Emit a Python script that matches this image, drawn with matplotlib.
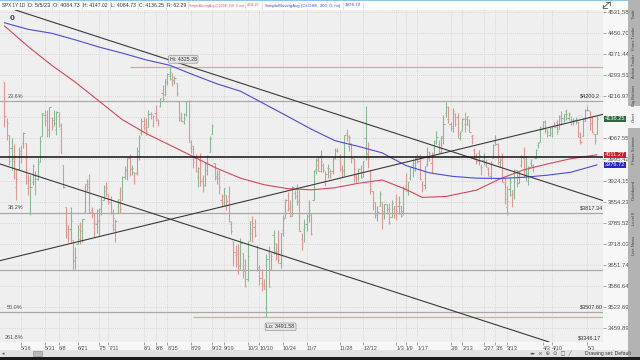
import numpy as np
import pandas as pd
import matplotlib
matplotlib.use("Agg")
import matplotlib.pyplot as plt
from matplotlib.collections import LineCollection
from matplotlib.patches import Rectangle
from matplotlib.lines import Line2D
from matplotlib.ticker import NullLocator
import matplotlib.transforms as mtrans

# ---------------- data ----------------
holidays = ["2022-05-30", "2022-06-20", "2022-07-04", "2022-09-05", "2022-11-24",
            "2022-12-26", "2023-01-02", "2023-01-16", "2023-02-20", "2023-04-07"]

opens = [4270,4128,4081,4035,3990,3903,3963,4013,4052,4051,3900,3927,3919,3943,3929,3985,4077,4151,
 4150,4096,4138,4134,4097,4148,4102,3975,3838,3764,3764,3729,3665,3716,3734,3775,3821,3921,3913,3826,3785,
 3782,3792,3831,3858,3888,3880,3851,3779,3764,3818,3883,3860,3935,3960,4000,3965,3953,3951,4026,4088,
 4112,4105,4108,4155,4116,4156,4134,4181,4227,4225,4269,4290,4280,4273,4266,4195,4133,4126,4154,4199,4034,4041,4000,
 3937,3994,3930,3909,3960,4022,4084,3983,3940,3932,3858,3849,3876,3872,3782,3727,3682,3687,3651,3688,3633,
 3609,3726,3753,3771,3706,3646,3595,3591,3520,3690,3640,3746,3696,3689,3657,3762,3799,3825,3834,3808,3881,
 3901,3853,3733,3766,3780,3817,3810,3859,3963,3977,4006,3977,3919,3966,3957,3956,4001,4023,4005,3964,3957,
 4087,4040,4052,3997,3937,3947,3954,3940,4069,4015,3958,3890,3853,3811,3840,3853,3815,3843,3829,3805,3829,
 3853,3840,3840,3823,3910,3889,3932,3977,3961,3999,4002,3912,3910,3979,4001,3982,4036,4053,4050,4020,
 4070,4158,4136,4119,4105,4153,4144,4068,4096,4118,4119,4114,4077,4027,4002,4019,3973,3993,3977,
 3964,3939,3999,4055,4049,3987,3998,3912,3835,3895,3876,3878,3959,3917,3975,4002,3959,3939,3982,3974,3999,4046,4056,
 4102,4128,4094,4081,4085,4111,4126,4101,4140,4137,4164,4140,4130,4132,4132,4126,4087,4075,4129,
 4166,4164,4122,4082,4084.73]
highs = [4270,4140,4081,4068,4050,3964,4038,4046,4090,4051,3946,3943,3981,3955,3999,4076,4158,4169,
 4167,4177,4142,4169,4164,4160,4120,3975,3838,3778,3837,3729,3707,3779,3789,3797,3913,3928,3946,3837,3818,
 3829,3832,3870,3910,3918,3880,3874,3830,3796,3863,3903,3939,3974,3999,4013,3975,3953,4039,4079,4141,
 4144,4141,4167,4161,4151,4187,4137,4211,4257,4280,4301,4325.28,4302,4292,4266,4196,4160,4156,4200,4203,4062,4044,4015,
 3970,4018,3942,3987,4010,4077,4119,3983,3961,3960,3880,3900,3876,3907,3790,3727,3715,3717,3736,3688,3671,
 3727,3791,3807,3797,3713,3652,3640,3609,3685,3712,3689,3762,3719,3762,3753,3810,3862,3887,3859,3905,3893,
 3912,3894,3751,3796,3813,3859,3818,3958,4001,4008,4028,3983,3955,3979,3962,4004,4033,4035,4013,3976,4080,
 4101,4080,4052,4002,3951,3966,3977,3991,4181,4054,3958,3890,3854,3839,3889,3853,3845,3847,3848,3858,3839,
 3878,3874,3840,3906,3951,3920,3970,3997,4003,4015,4014,3923,3973,4039,4023,4020,4061,4095,4063,4077,
 4149,4195,4182,4124,4176,4156,4157,4094,4138,4159,4148,4136,4081,4033,4017,4029,3979,4019,3997,
 3971,3990,4048,4079,4051,4001,4018,3935,3905,3937,3894,3964,3959,3956,4009,4039,4007,3972,3997,3979,4030,4057,4110,
 4128,4133,4100,4108,4110,4124,4132,4150,4164,4152,4170,4162,4148,4138,4142,4127,4089,4139,4170,
 4186,4165,4148,4083,4147.02]
lows = [4106,4062,3975,3959,3928,3858,3963,3983,4033,3911,3876,3810,3909,3875,3925,3985,4077,4110,
 4074,4074,4098,4110,4080,4107,4017,3900,3735,3722,3723,3639,3637,3716,3717,3723,3821,3889,3820,3800,3738,
 3752,3742,3809,3858,3873,3847,3814,3759,3722,3818,3817,3860,3930,3927,3938,3944,3911,3943,3992,4079,
 4097,4079,4107,4136,4107,4128,4112,4177,4200,4218,4257,4277,4253,4261,4218,4129,4128,4119,4147,4057,4017,3965,3954,
 3903,3906,3886,3906,3944,4022,4084,3926,3912,3880,3837,3839,3828,3789,3749,3648,3644,3623,3640,3611,3584,
 3602,3726,3723,3739,3631,3588,3570,3578,3491.58,3582,3640,3686,3668,3657,3642,3741,3799,3824,3803,3808,3863,
 3843,3758,3698,3722,3759,3786,3745,3859,3945,3957,3953,3954,3906,3933,3933,3947,3998,4021,3955,3937,3938,
 4058,4026,3984,3918,3916,3923,3933,3935,3993,3965,3879,3828,3800,3792,3839,3765,3797,3813,3780,3805,3800,
 3794,3815,3803,3809,3890,3877,3925,3937,3955,3984,3926,3885,3897,3972,3990,3950,4013,4049,4017,4020,
 4049,4142,4123,4094,4089,4111,4069,4061,4092,4091,4113,4089,4048,3997,3981,3978,3943,3977,3968,
 3940,3928,3999,4044,3981,3970,3918,3846,3809,3873,3838,3864,3901,3917,3971,3936,3921,3909,3970,3952,3999,4035,4056,
 4102,4086,4072,4077,4073,4108,4084,4099,4114,4124,4131,4134,4114,4114,4117,4071,4049,4075,4128,
 4164,4096,4088,4048,4084.73]
closes = [4147,4123,3991,4001,3935,3930,4024,4008,4088,3924,3901,3901,3974,3941,3979,4058,4158,4132,
 4101,4177,4109,4121,4161,4116,4018,3901,3750,3735,3790,3667,3675,3765,3760,3796,3912,3901,3821,3819,3785,
 3825,3831,3845,3903,3899,3854,3819,3801,3790,3863,3831,3937,3960,3999,3962,3967,3921,4024,4073,4130,
 4119,4091,4155,4152,4145,4140,4122,4210,4207,4280,4297,4305,4275,4284,4228,4138,4128,4141,4199,4057,4031,3986,3955,
 3966,3924,3908,3980,4006,4067,4110,3932,3946,3901,3873,3899,3856,3790,3758,3693,3655,3647,3719,3640,3586,
 3678,3791,3783,3745,3640,3612,3589,3578,3670,3583,3678,3720,3696,3666,3753,3797,3859,3830,3807,3901,3872,
 3856,3759,3720,3771,3807,3828,3749,3956,3993,3957,3991,3959,3947,3965,3950,4004,4027,4026,3964,3958,4080,
 4076,4072,3999,3941,3933,3964,3934,3991,4019,3996,3896,3853,3818,3821,3879,3822,3845,3829,3783,3849,3840,
 3824,3853,3808,3895,3893,3919,3970,3983,3999,3991,3929,3899,3972,4020,4017,4016,4060,4071,4018,4077,
 4119,4180,4136,4111,4164,4118,4082,4090,4137,4136,4148,4090,4079,3997,3991,4012,3970,3982,3970,
 3951,3982,4046,4048,3986,3992,3919,3862,3855,3920,3892,3960,3917,3951,4003,3937,3949,3971,3977,3971,4028,4051,4109,
 4124,4101,4090,4105,4110,4109,4092,4146,4138,4152,4154,4154,4130,4133,4137,4072,4056,4136,4169,
 4167,4119,4091,4061,4136.25]

# moving averages (bar index, value)
ma100_idx = [0, 10, 20, 30, 40, 50, 60, 70, 80, 90, 100, 110, 120, 130, 140, 150, 160, 170, 177, 187, 200, 210, 220, 230, 240, 251]
sma100 = [4478, 4400, 4330, 4268, 4200, 4133, 4085, 4045, 4005, 3965, 3932, 3910, 3897, 3893, 3900, 3915, 3926, 3895, 3868, 3871, 3892, 3930, 3960, 3980, 3998, 4011.27]
ma200_idx = [0, 10, 20, 30, 40, 50, 60, 70, 80, 90, 100, 110, 120, 130, 140, 150, 160, 170, 180, 190, 200, 210, 220, 230, 240, 251]
sma200 = [4490, 4465, 4450, 4425, 4398, 4375, 4350, 4330, 4295, 4262, 4235, 4190, 4145, 4100, 4060, 4040, 4018, 3975, 3950, 3938, 3932, 3931, 3935, 3942, 3952, 3976.72]

price_ticks = [4531.58, 4450.70, 4371.44, 4293.51, 4216.97, 4141.40, 4067.55, 3995.42, 3924.15,
               3854.23, 3785.52, 3718.03, 3651.74, 3586.64, 3522.69, 3459.89]

date_labels = ["2022-05-16", "2022-05-31", "2022-06-08", "2022-06-21", "2022-07-05", "2022-07-11",
               "2022-08-01", "2022-08-08", "2022-08-15", "2022-08-29", "2022-09-12", "2022-09-19",
               "2022-10-03", "2022-10-10", "2022-10-24", "2022-11-07", "2022-11-28", "2022-12-12",
               "2023-01-03", "2023-01-09", "2023-01-17", "2023-02-06", "2023-02-13", "2023-02-27",
               "2023-03-06", "2023-03-13", "2023-04-03", "2023-04-10", "2023-05-01"]

fib_levels = [4200.2, 3817.34, 3507.60]
fib_names = ["23.6%", "38.2%", "50.0%"]
fib_prices = ["$4200.2", "$3817.34", "$3507.60"]
support_level = 3636.87
black_level = 4003.0
hi_value, lo_value = 4325.28, 3491.58
# trendlines: (bar index, price) pairs
trend_down_upper = [(0, 4553.0), (251, 3864.0)]
trend_down_lower = [(0, 3975.0), (200, 3488.0)]
trend_up = [(0, 3668.0), (251, 4147.0)]

# header items: text, colour, left px, right px
header_items = [("SPX 1Y 1D", "#333333", 2, 25), ("D: 5/5/23", "#333333", 28, 50),
                ("O: 4084.73", "#333333", 53, 80), ("H: 4147.02", "#333333", 83, 108),
                ("L: 4084.73", "#333333", 111, 136), ("C: 4136.25", "#333333", 139, 164),
                ("R: 62.29", "#333333", 167, 186), ("SimpleMovingAvg (CLOSE, 100, 0, no)", "#d9475a", 189, 243),
                ("4011.27", "#d9475a", 247, 260), ("SimpleMovingAvg (CLOSE, 200, 0, no)", "#4545d6", 265, 341),
                ("3976.72", "#4545d6", 345, 361)]

# ---------------- figure ----------------
W, H = 640, 360
fig = plt.figure(figsize=(6.4, 3.6), dpi=100)
fig.patch.set_facecolor("#f7f7f7")
FONT = "Liberation Sans"

def fx(px):
    return px / W

def fy(py):
    return 1 - py / H

ax = fig.add_axes([0, fy(342), fx(603), (342 - 10) / H])
ax.set_facecolor("#efefef")
ax.set_yscale("log")
ax.set_ylim(3418.6, 4539.3)
ax.set_xlim(-1.9, 253.6)
for s in ax.spines.values():
    s.set_visible(False)

dates = pd.bdate_range("2022-05-05", "2023-05-05", freq="C", holidays=holidays)
n = min(len(dates), len(closes))

# axes ticks and grid
ax.yaxis.set_minor_locator(NullLocator())
ax.yaxis.tick_right()
ax.set_yticks(price_ticks)
ylabels = ["" if abs(v - 4141.40) < 0.01 else f"{v:.2f}" for v in price_ticks]
ax.set_yticklabels(ylabels, fontsize=4.3, color="#555555", family=FONT)
ax.tick_params(axis="y", length=2, width=0.5, color="#888888", pad=1.5)

pos, labs = [], []
dmap = {d.strftime("%Y-%m-%d"): i for i, d in enumerate(dates[:n])}
for d in date_labels:
    if d in dmap:
        pos.append(dmap[d])
        ts = pd.Timestamp(d)
        labs.append(f"{ts.month}/{ts.day}")
ax.set_xticks(pos)
ax.set_xticklabels(labs, fontsize=4.0, color="#555555", family=FONT)
for t in ax.get_xticklabels():
    t.set_ha("left")
ax.tick_params(axis="x", length=2, width=0.5, color="#888888", pad=1.0)
ax.grid(True, which="major", ls=(0, (1, 2)), lw=0.5, color="#c4c4c4")
ax.set_axisbelow(True)

# horizontal levels
for lv in fib_levels:
    ax.axhline(lv, color="#a9a9a9", lw=0.9, zorder=1)
ax.axhline(support_level, color="#a9a9a9", lw=0.9, zorder=1)
ax.hlines(hi_value, 53, 253.6, color="#e2a3a3", lw=0.9, zorder=1)
ax.hlines(lo_value, 80, 253.6, color="#e2a3a3", lw=0.9, zorder=1)

# OHLC bars
o = np.array(opens[:n]); h = np.array(highs[:n]); l = np.array(lows[:n]); c = np.array(closes[:n])
prev = np.concatenate([[o[0]], c[:-1]])
up = c >= prev
segs, cols = [], []
for i in range(n):
    col = "#86b994" if up[i] else "#e19696"
    segs += [[(i, l[i]), (i, h[i])], [(i - 0.5, o[i]), (i, o[i])], [(i, c[i]), (i + 0.5, c[i])]]
    cols += [col] * 3
ax.add_collection(LineCollection(segs, colors=cols, linewidths=0.8, zorder=3))

# moving averages
ax.plot(ma100_idx, sma100, color="#d9475a", lw=0.8, zorder=4)
ax.plot(ma200_idx, sma200, color="#4a4adf", lw=0.8, zorder=4)

# trendlines and black level
for tl in (trend_down_upper, trend_down_lower, trend_up):
    ax.axline(tl[0], tl[1], color="#3a3a3a", lw=0.8, zorder=5)
ax.axhline(black_level, color="#111111", lw=1.1, zorder=5)

# fib labels
blend = mtrans.blended_transform_factory(ax.transAxes, ax.transData)
for lv, nm, pr in zip(fib_levels, fib_names, fib_prices):
    ax.text(0.012, lv * 1.002, nm, transform=blend, fontsize=4, color="#555555", family=FONT, va="bottom")
    ax.text(0.962, lv * 1.002, pr, transform=blend, fontsize=4, color="#333333", family=FONT, va="bottom", ha="left")
ax.text(0.008, 0.006, "261.8%", transform=ax.transAxes, fontsize=4, color="#555555", family=FONT, va="bottom")
ax.text(0.958, 0.006, "$3346.17", transform=ax.transAxes, fontsize=4, color="#333333", family=FONT, va="bottom", ha="left")

# hi / lo bubbles
hi_i = int(np.argmax(h)); lo_i = int(np.argmin(l))
bb = dict(boxstyle="round,pad=0.25", fc="#e4e4e4", ec="#9a9a9a", lw=0.5)
ax.text(hi_i, hi_value * 1.004, f"Hi: {hi_value:.2f}", fontsize=3.8, family=FONT, color="#333333",
        va="bottom", ha="left", bbox=bb, zorder=6)
ax.text(lo_i, lo_value * 0.994, f"Lo: {lo_value:.2f}", fontsize=3.8, family=FONT, color="#333333",
        va="top", ha="left", bbox=bb, zorder=6)
ax.text(2, 4520, "0", fontsize=5, fontweight="bold", color="#444444", va="top")

# price bubbles on axis
for val, fc in ((closes[n - 1], "#2a6a3c"), (sma100[-1], "#cc1f2e"), (sma200[-1], "#2727cc")):
    ax.text(1.003, val, f"{val:.2f}", transform=blend, fontsize=4.1, color="white", family=FONT,
            va="center", ha="left", bbox=dict(boxstyle="square,pad=0.12", fc=fc, ec="none"), zorder=7,
            clip_on=False)

# header bar
fig.patches.append(Rectangle((0, fy(10)), 1, 10 / H, transform=fig.transFigure, fc="white", ec="none"))
fig.patches.append(Rectangle((0, fy(1)), 1, 1 / H, transform=fig.transFigure, fc="#8fc3e8", ec="none"))
renderer = fig.canvas.get_renderer()
for txt, col, x0, x1 in header_items:
    t = fig.text(fx(x0), fy(5.5), txt, fontsize=4.0, color=col, family=FONT, va="center", ha="left")
    wpx = t.get_window_extent(renderer=renderer).width
    fs = min(4.0, 4.0 * (x1 - x0) / max(wpx, 1))
    t.set_fontsize(fs)
    fig.lines.append(Line2D([fx(x1 + 1.5), fx(x1 + 1.5)], [fy(9), fy(2)], transform=fig.transFigure,
                            color="#d0d0d0", lw=0.4))
# expand icon
fig.lines.append(Line2D([fx(603), fx(610)], [fy(8), fy(2)], transform=fig.transFigure, color="#555555", lw=0.6))
fig.lines.append(Line2D([fx(606), fx(610), fx(610)], [fy(2), fy(2), fy(5)], transform=fig.transFigure, color="#555555", lw=0.6))
fig.lines.append(Line2D([fx(603), fx(603), fx(607)], [fy(5), fy(8), fy(8)], transform=fig.transFigure, color="#555555", lw=0.6))

# right side panel
fig.patches.append(Rectangle((fx(628), 0), fx(12), 1, transform=fig.transFigure, fc="#b3b3b3", ec="none"))
fig.patches.append(Rectangle((fx(628), fy(128)), fx(12), 22 / H, transform=fig.transFigure, fc="#f4f4f4", ec="none"))
tabs = [("Trade", 14), ("Forex Trader", 38), ("Active Trader", 66), ("Big Buttons", 95), ("Chart", 117),
        ("Phase Scanner", 150), ("Dashboard", 190), ("Level II", 218), ("Live News", 245)]
for txt, py in tabs:
    fig.text(fx(634), fy(py), txt, fontsize=3.0, rotation=90, color="#444444", family=FONT,
             va="center", ha="center")

# bottom toolbar
fig.patches.append(Rectangle((0, fy(357)), fx(628), 7 / H, transform=fig.transFigure, fc="#e2e2e2", ec="none"))
fig.patches.append(Rectangle((fx(33), fy(356)), fx(9), 5 / H, transform=fig.transFigure, fc="#b9b9b9", ec="#888888", lw=0.4))
fig.patches.append(Rectangle((0, 0), 1, 3 / H, transform=fig.transFigure, fc="#1b1b1b", ec="none"))
fig.text(fx(2), fy(353.5), "\u25c2", fontsize=3.6, color="#555555", family="DejaVu Sans", va="center")
fig.text(fx(530), fy(353.5), "\u25c2\u25b8  \u221e  \u2295  \u2299  \u25a1  \u2571", fontsize=3.6,
         color="#555555", family="DejaVu Sans", va="center")
fig.text(fx(585), fy(353.5), "Drawing set: Default", fontsize=3.6, color="#333333", family=FONT, va="center")

fig.savefig("out.png", dpi=100, facecolor=fig.get_facecolor())
